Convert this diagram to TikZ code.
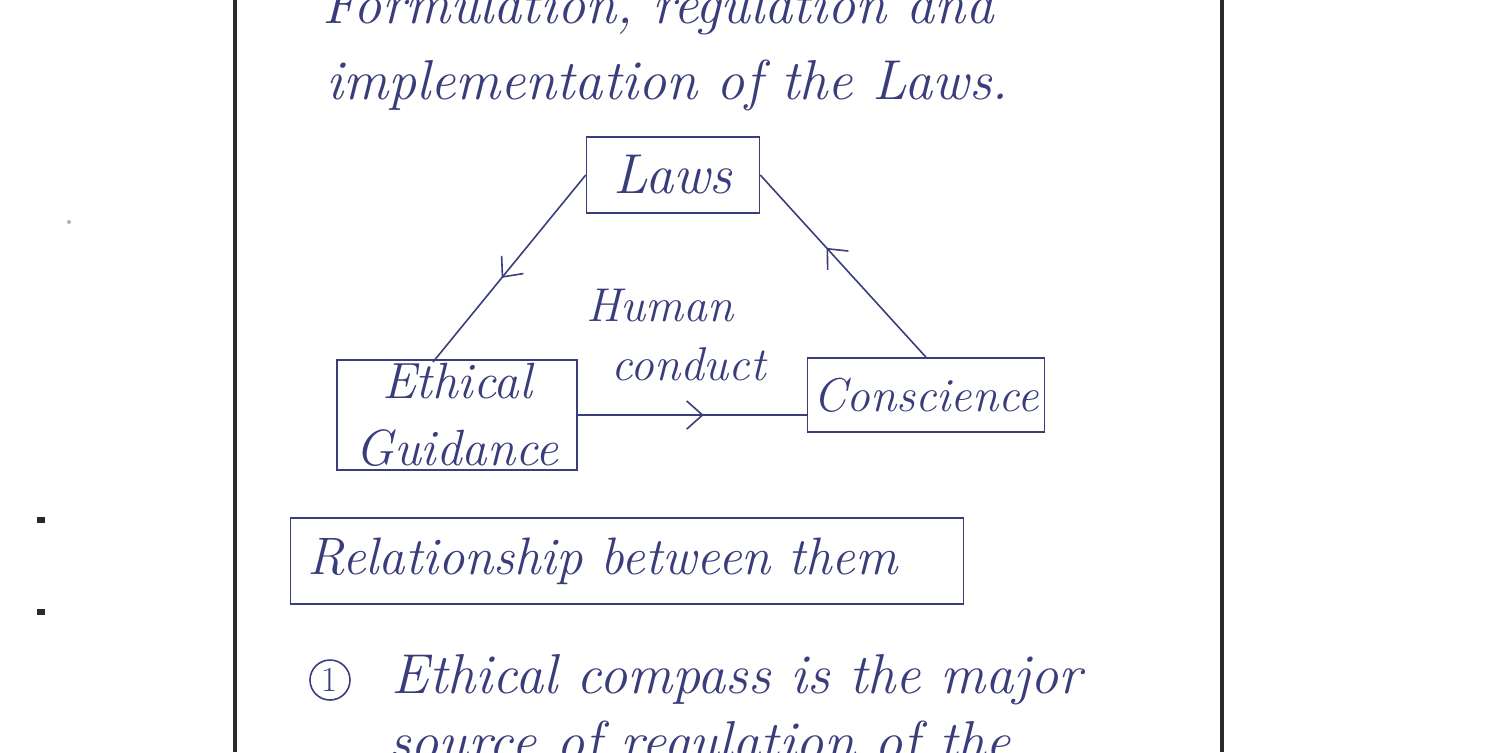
\documentclass[tikz,border=0pt]{standalone}
\usepackage{xcolor}
\usepackage{tikz}
\usetikzlibrary{arrows.meta, positioning, decorations.markings}

\definecolor{ink}{HTML}{3A3D7C}
\definecolor{edge}{HTML}{2A2A2A}

\begin{document}
\begin{tikzpicture}[x=0.02cm, y=-0.02cm,
  hand/.style={text=ink, font=\fontsize{32}{40}\selectfont\itshape},
  box/.style={rectangle, draw=ink, line width=0.9pt, align=center, inner sep=2pt, hand},
  link/.style={ink, line width=0.9pt, postaction={decorate},
    decoration={markings, mark=at position #1 with {\arrow{Straight Barb[length=9pt, width=16pt, line width=0.9pt]}}}},
  link/.default=0.55
]
  \useasboundingbox[fill=white] (0,0) rectangle (1500,752);
  \clip (0,0) rectangle (1500,752);
  \draw[edge, line width=2pt] (235,0) -- (235,752);
  \draw[edge, line width=2pt] (1222,0) -- (1222,752);
  \fill[edge] (37,517) rectangle (45,523);
  \fill[edge] (37,609) rectangle (45,615);
  \fill[gray!60] (69,222) circle (2);

  \node[hand, anchor=west] (line1) at (316,10) {Formulation, regulation and};
  \node[hand, anchor=west] (line2) at (320,85) {implementation of the Laws.};

  \node[box, minimum width=3.46cm, minimum height=1.52cm] (laws) at (673,175) {Laws};
  \node[box, minimum width=4.8cm, minimum height=2.12cm, font=\fontsize{29}{38}\selectfont\itshape] (ethics) at (457,415) {Ethical\\Guidance};
  \node[box, minimum width=4.74cm, minimum height=1.48cm, font=\fontsize{27}{34}\selectfont\itshape] (consc) at (926,395) {Conscience};
  \node[hand, align=center, font=\fontsize{27}{34}\selectfont\itshape] (conduct) at (660,335) {Human\\\hspace*{1.2em}conduct};

  \coordinate (etop) at (433,362);
  \coordinate (cwest) at (consc.west |- ethics.east);
  \draw[link=0.55] (laws.west) -- (etop);
  \draw[link=0.6] (consc.north) -- (laws.east);
  \draw[link=0.55] (ethics.east) -- (cwest);

  \node[box, minimum width=13.46cm, minimum height=1.72cm, text width=12.8cm, align=left, font=\fontsize{30}{36}\selectfont\itshape] (relation) at (627,561) {Relationship between them};

  \node[circle, draw=ink, line width=0.9pt, inner sep=1pt, minimum size=0.8cm, text=ink, font=\fontsize{20}{24}\selectfont] (num) at (330,680) {1};
  \node[hand, anchor=west, right=0.7cm of num] (line3) {Ethical compass is the major};
  \node[hand, anchor=west] (line4) at (382,746) {source of regulation of the};
\end{tikzpicture}
\end{document}
